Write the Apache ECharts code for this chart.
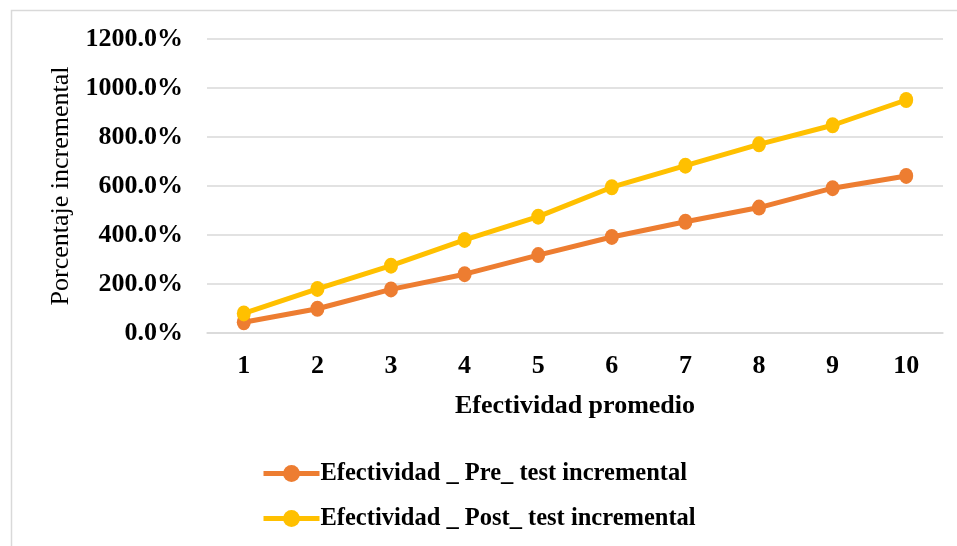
<!DOCTYPE html>
<html>
<head>
<meta charset="utf-8">
<script src="https://cdn.jsdelivr.net/npm/echarts@6/dist/echarts.min.js"></script>
<style>
  html, body { margin: 0; padding: 0; background: #fff; }
  #chart { width: 957px; height: 546px; }
</style>
</head>
<body>
<div id="chart"></div>
<script>
// Effectiveness levels on the x axis
const categories = ['1', '2', '3', '4', '5', '6', '7', '8', '9', '10'];
// Incremental percentage, pre-test and post-test
const preTest = [44, 99, 178, 240, 318, 392, 454, 512, 591, 641];
const postTest = [80, 180, 275, 380, 475, 595, 683, 770, 848, 951];
const seriesNames = ['Efectividad _ Pre_ test incremental', 'Efectividad _ Post_ test incremental'];

const FONT = '"Liberation Serif", "Times New Roman", serif';

const chart = echarts.init(document.getElementById('chart'));
chart.setOption({
  animation: false,
  backgroundColor: '#fff',
  graphic: [{
    type: 'rect',
    shape: { x: 11.5, y: 10.5, width: 960, height: 560 },
    style: { fill: 'none', stroke: '#d9d9d9', lineWidth: 1.5 },
    silent: true
  }],
  grid: { left: 207, right: 14, top: 39, bottom: 213, containLabel: false },
  xAxis: {
    type: 'category',
    data: categories,
    boundaryGap: true,
    axisLine: { lineStyle: { color: '#d9d9d9', width: 1.5 } },
    axisTick: { show: false },
    axisLabel: { color: '#000', fontFamily: FONT, fontWeight: 'bold', fontSize: 26, margin: 20 },
    name: 'Efectividad promedio',
    nameLocation: 'middle',
    nameGap: 60,
    nameTextStyle: { color: '#000', fontFamily: FONT, fontWeight: 'bold', fontSize: 26 }
  },
  yAxis: {
    type: 'value',
    min: 0, max: 1200, interval: 200,
    axisLine: { show: false },
    axisTick: { show: false },
    splitLine: { lineStyle: { color: '#d9d9d9', width: 1.5 } },
    axisLabel: {
      color: '#000', fontFamily: FONT, fontWeight: 'bold', fontSize: 26, margin: 24,
      formatter: v => v.toFixed(1) + '%'
    },
    name: 'Porcentaje incremental',
    nameLocation: 'middle',
    nameGap: 130,
    nameTextStyle: { color: '#000', fontFamily: FONT, fontSize: 26 }
  },
  legend: {
    orient: 'vertical',
    left: 256,
    top: 456,
    itemGap: 20,
    itemWidth: 56,
    itemHeight: 21,
    lineStyle: { width: 5 },
    textStyle: { color: '#000', fontFamily: FONT, fontWeight: 'bold', fontSize: 24.5, padding: [0, 0, 0, -4] },
    data: seriesNames
  },
  series: [
    {
      name: seriesNames[0],
      type: 'line',
      data: preTest,
      color: '#ed7d31',
      symbol: 'circle',
      symbolSize: [14, 16],
      lineStyle: { width: 5, color: '#ed7d31' },
      itemStyle: { color: '#ed7d31' }
    },
    {
      name: seriesNames[1],
      type: 'line',
      data: postTest,
      color: '#ffc000',
      symbol: 'circle',
      symbolSize: [14, 16],
      lineStyle: { width: 5, color: '#ffc000' },
      itemStyle: { color: '#ffc000' }
    }
  ]
});
</script>
</body>
</html>
